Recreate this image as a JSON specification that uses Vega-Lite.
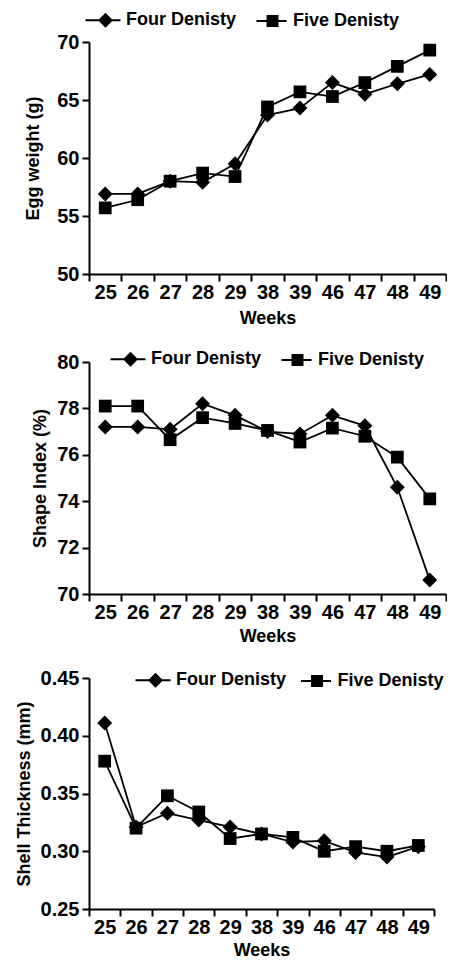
{
  "$schema": "https://vega.github.io/schema/vega-lite/v6.json",
  "background": "white",
  "padding": {"left": 15, "top": 11, "right": 0, "bottom": 0},
  "spacing": 23,
  "config": {
    "view": {"stroke": null},
    "font": "Liberation Sans",
    "axis": {
      "labelFont": "Liberation Sans", "labelFontSize": 20, "labelFontWeight": "bold", "labelColor": "black",
      "titleFont": "Liberation Sans", "titleFontSize": 18, "titleFontWeight": "bold", "titleColor": "black",
      "domainColor": "black", "domainWidth": 2, "tickColor": "black", "tickWidth": 2, "tickSize": 7,
      "grid": false, "labelPadding": 3
    },
    "axisX": {"labelPadding": 1},
    "legend": {
      "labelFont": "Liberation Sans", "labelFontSize": 18, "labelFontWeight": "bold", "labelColor": "black",
      "symbolFillColor": "black"
    }
  },
  "datasets": {
    "egg": [
      {"week": "25", "group": "Four Denisty", "value": 56.9},
      {"week": "26", "group": "Four Denisty", "value": 56.9},
      {"week": "27", "group": "Four Denisty", "value": 58.0},
      {"week": "28", "group": "Four Denisty", "value": 57.9},
      {"week": "29", "group": "Four Denisty", "value": 59.5},
      {"week": "38", "group": "Four Denisty", "value": 63.7},
      {"week": "39", "group": "Four Denisty", "value": 64.3},
      {"week": "46", "group": "Four Denisty", "value": 66.5},
      {"week": "47", "group": "Four Denisty", "value": 65.5},
      {"week": "48", "group": "Four Denisty", "value": 66.4},
      {"week": "49", "group": "Four Denisty", "value": 67.2},
      {"week": "25", "group": "Five Denisty", "value": 55.7},
      {"week": "26", "group": "Five Denisty", "value": 56.4},
      {"week": "27", "group": "Five Denisty", "value": 58.0},
      {"week": "28", "group": "Five Denisty", "value": 58.7},
      {"week": "29", "group": "Five Denisty", "value": 58.4},
      {"week": "38", "group": "Five Denisty", "value": 64.4},
      {"week": "39", "group": "Five Denisty", "value": 65.7},
      {"week": "46", "group": "Five Denisty", "value": 65.3},
      {"week": "47", "group": "Five Denisty", "value": 66.5},
      {"week": "48", "group": "Five Denisty", "value": 67.9},
      {"week": "49", "group": "Five Denisty", "value": 69.3}
    ],
    "shape": [
      {"week": "25", "group": "Four Denisty", "value": 77.2},
      {"week": "26", "group": "Four Denisty", "value": 77.2},
      {"week": "27", "group": "Four Denisty", "value": 77.1},
      {"week": "28", "group": "Four Denisty", "value": 78.2},
      {"week": "29", "group": "Four Denisty", "value": 77.7},
      {"week": "38", "group": "Four Denisty", "value": 77.0},
      {"week": "39", "group": "Four Denisty", "value": 76.9},
      {"week": "46", "group": "Four Denisty", "value": 77.7},
      {"week": "47", "group": "Four Denisty", "value": 77.25},
      {"week": "48", "group": "Four Denisty", "value": 74.6},
      {"week": "49", "group": "Four Denisty", "value": 70.6},
      {"week": "25", "group": "Five Denisty", "value": 78.1},
      {"week": "26", "group": "Five Denisty", "value": 78.1},
      {"week": "27", "group": "Five Denisty", "value": 76.65},
      {"week": "28", "group": "Five Denisty", "value": 77.6},
      {"week": "29", "group": "Five Denisty", "value": 77.35},
      {"week": "38", "group": "Five Denisty", "value": 77.05},
      {"week": "39", "group": "Five Denisty", "value": 76.55},
      {"week": "46", "group": "Five Denisty", "value": 77.15},
      {"week": "47", "group": "Five Denisty", "value": 76.8},
      {"week": "48", "group": "Five Denisty", "value": 75.9},
      {"week": "49", "group": "Five Denisty", "value": 74.1}
    ],
    "shell": [
      {"week": "25", "group": "Four Denisty", "value": 0.411},
      {"week": "26", "group": "Four Denisty", "value": 0.321},
      {"week": "27", "group": "Four Denisty", "value": 0.333},
      {"week": "28", "group": "Four Denisty", "value": 0.327},
      {"week": "29", "group": "Four Denisty", "value": 0.321},
      {"week": "38", "group": "Four Denisty", "value": 0.315},
      {"week": "39", "group": "Four Denisty", "value": 0.308},
      {"week": "46", "group": "Four Denisty", "value": 0.309},
      {"week": "47", "group": "Four Denisty", "value": 0.299},
      {"week": "48", "group": "Four Denisty", "value": 0.295},
      {"week": "49", "group": "Four Denisty", "value": 0.304},
      {"week": "25", "group": "Five Denisty", "value": 0.378},
      {"week": "26", "group": "Five Denisty", "value": 0.320},
      {"week": "27", "group": "Five Denisty", "value": 0.348},
      {"week": "28", "group": "Five Denisty", "value": 0.334},
      {"week": "29", "group": "Five Denisty", "value": 0.311},
      {"week": "38", "group": "Five Denisty", "value": 0.315},
      {"week": "39", "group": "Five Denisty", "value": 0.312},
      {"week": "46", "group": "Five Denisty", "value": 0.300},
      {"week": "47", "group": "Five Denisty", "value": 0.304},
      {"week": "48", "group": "Five Denisty", "value": 0.300},
      {"week": "49", "group": "Five Denisty", "value": 0.305}
    ]
  },
  "vconcat": [
    {
      "data": {"name": "egg"},
      "width": 357, "height": 232,
      "encoding": {
        "x": {"field": "week", "type": "ordinal", "sort": null, "scale": {"type": "band", "paddingInner": 0, "paddingOuter": 0}, "axis": {"labelAngle": 0, "tickBand": "extent", "title": "Weeks", "titlePadding": 7}},
        "y": {"field": "value", "type": "quantitative", "scale": {"domain": [50, 70], "nice": false, "zero": false}, "axis": {"values": [50, 55, 60, 65, 70], "title": "Egg weight (g)", "titlePadding": 14}}
      },
      "layer": [
        {"mark": {"type": "line", "color": "black", "strokeWidth": 1.8}, "encoding": {"detail": {"field": "group"}}},
        {"mark": {"type": "point", "filled": true, "color": "black", "opacity": 1, "size": 225},
         "encoding": {"shape": {"field": "group", "type": "nominal", "scale": {"domain": ["Four Denisty", "Five Denisty"], "range": ["M0,-1L1,0L0,1L-1,0Z", "M-0.85,-0.85H0.85V0.85H-0.85Z"]}, "legend": null}}},
        {"transform": [{"filter": "false"}],
         "mark": {"type": "point", "filled": true, "color": "black", "opacity": 1, "size": 225},
         "encoding": {"x": {"field": "week", "type": "ordinal"}, "y": {"field": "value", "type": "quantitative"},
           "shape": {"field": "group", "type": "nominal", "scale": {"domain": ["Four Denisty", "Five Denisty"], "range": ["M-2.67,-0.13H2V0.13H-2.67ZM0,-1L1,0L0,1L-1,0Z", "M-2.13,-0.13H1.87V0.13H-2.13ZM-0.8,-0.8H0.8V0.8H-0.8Z"]},
             "legend": {"orient": "none", "legendX": 7.5, "legendY": -31, "direction": "horizontal", "title": null, "labelOffset": 11.5, "columnPadding": 17, "symbolSize": 225, "padding": 0,
               "encode": {"symbols": {"update": {"fill": {"value": "black"}, "opacity": {"value": 1}}}}}}}}
      ],
      "resolve": {"scale": {"shape": "independent"}}
    },
    {
      "data": {"name": "shape"},
      "width": 357, "height": 232,
      "encoding": {
        "x": {"field": "week", "type": "ordinal", "sort": null, "scale": {"type": "band", "paddingInner": 0, "paddingOuter": 0}, "axis": {"labelAngle": 0, "tickBand": "extent", "title": "Weeks", "titlePadding": 5}},
        "y": {"field": "value", "type": "quantitative", "scale": {"domain": [70, 80], "nice": false, "zero": false}, "axis": {"values": [70, 72, 74, 76, 78, 80], "title": "Shape Index (%)", "titlePadding": 7.5}}
      },
      "layer": [
        {"mark": {"type": "line", "color": "black", "strokeWidth": 1.8}, "encoding": {"detail": {"field": "group"}}},
        {"mark": {"type": "point", "filled": true, "color": "black", "opacity": 1, "size": 225},
         "encoding": {"shape": {"field": "group", "type": "nominal", "scale": {"domain": ["Four Denisty", "Five Denisty"], "range": ["M0,-1L1,0L0,1L-1,0Z", "M-0.85,-0.85H0.85V0.85H-0.85Z"]}, "legend": null}}},
        {"transform": [{"filter": "false"}],
         "mark": {"type": "point", "filled": true, "color": "black", "opacity": 1, "size": 225},
         "encoding": {"x": {"field": "week", "type": "ordinal"}, "y": {"field": "value", "type": "quantitative"},
           "shape": {"field": "group", "type": "nominal", "scale": {"domain": ["Four Denisty", "Five Denisty"], "range": ["M-2.67,-0.13H2V0.13H-2.67ZM0,-1L1,0L0,1L-1,0Z", "M-2.13,-0.13H1.87V0.13H-2.13ZM-0.8,-0.8H0.8V0.8H-0.8Z"]},
             "legend": {"orient": "none", "legendX": 32.5, "legendY": -12, "direction": "horizontal", "title": null, "labelOffset": 11.5, "columnPadding": 17, "symbolSize": 225, "padding": 0,
               "encode": {"symbols": {"update": {"fill": {"value": "black"}, "opacity": {"value": 1}}}}}}}}
      ],
      "resolve": {"scale": {"shape": "independent"}}
    },
    {
      "data": {"name": "shell"},
      "width": 345, "height": 231,
      "encoding": {
        "x": {"field": "week", "type": "ordinal", "sort": null, "scale": {"type": "band", "paddingInner": 0, "paddingOuter": 0}, "axis": {"labelAngle": 0, "tickBand": "extent", "title": "Weeks", "titlePadding": 4}},
        "y": {"field": "value", "type": "quantitative", "scale": {"domain": [0.25, 0.45], "nice": false, "zero": false}, "axis": {"values": [0.25, 0.3, 0.35, 0.4, 0.45], "format": ".2f", "title": "Shell Thickness (mm)", "titlePadding": 7}}
      },
      "layer": [
        {"mark": {"type": "line", "color": "black", "strokeWidth": 1.8}, "encoding": {"detail": {"field": "group"}}},
        {"mark": {"type": "point", "filled": true, "color": "black", "opacity": 1, "size": 225},
         "encoding": {"shape": {"field": "group", "type": "nominal", "scale": {"domain": ["Four Denisty", "Five Denisty"], "range": ["M0,-1L1,0L0,1L-1,0Z", "M-0.85,-0.85H0.85V0.85H-0.85Z"]}, "legend": null}}},
        {"transform": [{"filter": "false"}],
         "mark": {"type": "point", "filled": true, "color": "black", "opacity": 1, "size": 225},
         "encoding": {"x": {"field": "week", "type": "ordinal"}, "y": {"field": "value", "type": "quantitative"},
           "shape": {"field": "group", "type": "nominal", "scale": {"domain": ["Four Denisty", "Five Denisty"], "range": ["M-2.67,-0.13H2V0.13H-2.67ZM0,-1L1,0L0,1L-1,0Z", "M-2.13,-0.13H1.87V0.13H-2.13ZM-0.8,-0.8H0.8V0.8H-0.8Z"]},
             "legend": {"orient": "none", "legendX": 57.5, "legendY": -7, "direction": "horizontal", "title": null, "labelOffset": 11.5, "columnPadding": 11.5, "symbolSize": 225, "padding": 0,
               "encode": {"symbols": {"update": {"fill": {"value": "black"}, "opacity": {"value": 1}}}}}}}}
      ],
      "resolve": {"scale": {"shape": "independent"}}
    }
  ]
}
